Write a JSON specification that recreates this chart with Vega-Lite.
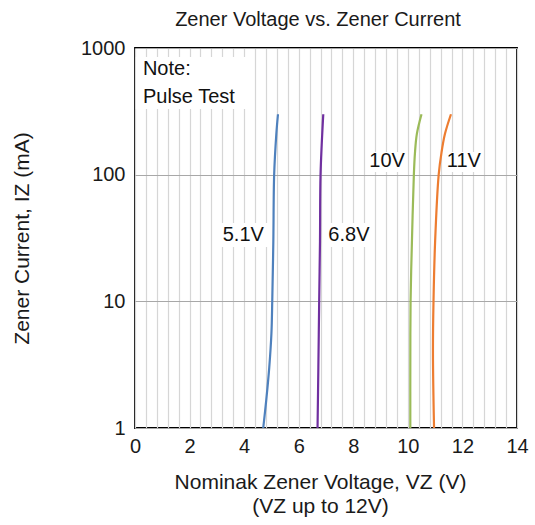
{
  "$schema": "https://vega.github.io/schema/vega-lite/v6.json",
  "width": 382,
  "height": 380,
  "autosize": {"type": "none"},
  "padding": {"left": 135, "top": 48, "right": 18, "bottom": 97},
  "background": "white",
  "title": {
    "text": "Zener Voltage vs. Zener Current",
    "font": "Liberation Sans",
    "fontSize": 20,
    "fontWeight": "normal",
    "color": "#1a1a1a",
    "frame": "group",
    "anchor": "middle",
    "dx": -8,
    "offset": 8
  },
  "config": {
    "view": {"stroke": "#000000", "strokeWidth": 1.8},
    "font": "Liberation Sans",
    "axis": {
      "labelFont": "Liberation Sans",
      "titleFont": "Liberation Sans",
      "labelColor": "#1a1a1a",
      "titleColor": "#1a1a1a",
      "titleFontWeight": "normal",
      "domain": false,
      "ticks": false,
      "labelOverlap": false
    }
  },
  "datasets": {
    "curves": [
      {"series": "5.1V", "v": 4.70, "i": 1},
      {"series": "5.1V", "v": 4.81, "i": 1.66},
      {"series": "5.1V", "v": 4.92, "i": 3},
      {"series": "5.1V", "v": 5.00, "i": 5.6},
      {"series": "5.1V", "v": 5.03, "i": 10},
      {"series": "5.1V", "v": 5.07, "i": 30},
      {"series": "5.1V", "v": 5.10, "i": 100},
      {"series": "5.1V", "v": 5.18, "i": 210},
      {"series": "5.1V", "v": 5.24, "i": 300},
      {"series": "6.8V", "v": 6.69, "i": 1},
      {"series": "6.8V", "v": 6.72, "i": 3},
      {"series": "6.8V", "v": 6.75, "i": 10},
      {"series": "6.8V", "v": 6.78, "i": 30},
      {"series": "6.8V", "v": 6.80, "i": 100},
      {"series": "6.8V", "v": 6.90, "i": 300},
      {"series": "10V", "v": 10.09, "i": 1},
      {"series": "10V", "v": 10.09, "i": 3},
      {"series": "10V", "v": 10.10, "i": 10},
      {"series": "10V", "v": 10.15, "i": 30},
      {"series": "10V", "v": 10.22, "i": 100},
      {"series": "10V", "v": 10.26, "i": 148},
      {"series": "10V", "v": 10.33, "i": 210},
      {"series": "10V", "v": 10.50, "i": 300},
      {"series": "11V", "v": 10.96, "i": 1},
      {"series": "11V", "v": 10.94, "i": 1.66},
      {"series": "11V", "v": 10.92, "i": 4.1},
      {"series": "11V", "v": 10.94, "i": 10},
      {"series": "11V", "v": 11.00, "i": 30},
      {"series": "11V", "v": 11.13, "i": 100},
      {"series": "11V", "v": 11.23, "i": 148},
      {"series": "11V", "v": 11.36, "i": 210},
      {"series": "11V", "v": 11.58, "i": 300}
    ],
    "boxes": [
      {"v": 0.03, "v2": 4.1, "i": 330, "i2": 850},
      {"v": 3.11, "v2": 4.87, "i": 26.8, "i2": 41.5},
      {"v": 6.92, "v2": 8.72, "i": 26.8, "i2": 41.5},
      {"v": 8.5, "v2": 9.96, "i": 105, "i2": 151},
      {"v": 11.28, "v2": 12.75, "i": 105, "i2": 151}
    ],
    "labels": [
      {"text": "5.1V", "v": 3.97, "i": 33.4},
      {"text": "6.8V", "v": 7.84, "i": 33.4},
      {"text": "10V", "v": 9.24, "i": 127.5},
      {"text": "11V", "v": 12.05, "i": 127.5}
    ],
    "notes": [
      {"text": "Note:", "v": 0.29, "i": 683},
      {"text": "Pulse Test", "v": 0.29, "i": 410}
    ]
  },
  "encoding": {
    "x": {
      "field": "v", "type": "quantitative",
      "scale": {"domain": [0, 14], "nice": false, "zero": false},
      "axis": {
        "values": [0, 0.4, 0.8, 1.2, 1.6, 2, 2.4, 2.8, 3.2, 3.6, 4, 4.4, 4.8, 5.2, 5.6, 6, 6.4, 6.8, 7.2, 7.6, 8, 8.4, 8.8, 9.2, 9.6, 10, 10.4, 10.8, 11.2, 11.6, 12, 12.4, 12.8, 13.2, 13.6, 14],
        "labelExpr": "abs(datum.value - round(datum.value / 2) * 2) < 0.001 ? format(datum.value, '.0f') : ''",
        "labelOverlap": false,
        "labelFlush": false,
        "labelFontSize": 20,
        "labelPadding": 8,
        "grid": true,
        "gridColor": "#d6d6d6",
        "gridWidth": 1.2,
        "title": ["Nominak Zener Voltage, VZ (V)", "(VZ up to 12V)"],
        "titleFontSize": 21,
        "titlePadding": 15,
        "titleLineHeight": 24,
        "titleX": 185
      }
    },
    "y": {
      "field": "i", "type": "quantitative",
      "scale": {"type": "log", "domain": [1, 1000], "nice": false},
      "axis": {
        "values": [1, 10, 100, 1000],
        "format": "d",
        "labelFontSize": 20,
        "labelPadding": 10,
        "grid": true,
        "gridColor": "#a8a8a8",
        "gridWidth": 1.2,
        "title": "Zener Current, IZ (mA)",
        "titleFontSize": 21,
        "titlePadding": 48
      }
    }
  },
  "layer": [
    {
      "data": {"name": "boxes"},
      "mark": {"type": "rect", "color": "white"},
      "encoding": {
        "x2": {"field": "v2"},
        "y2": {"field": "i2"}
      }
    },
    {
      "data": {"name": "curves"},
      "mark": {"type": "line", "strokeWidth": 2.2, "interpolate": "catmull-rom"},
      "encoding": {
        "order": {"field": "i", "type": "quantitative"},
        "color": {
          "field": "series", "type": "nominal",
          "scale": {"domain": ["5.1V", "6.8V", "10V", "11V"], "range": ["#4f81bd", "#7030a0", "#9bbb59", "#ed7d31"]},
          "legend": null
        }
      }
    },
    {
      "data": {"name": "labels"},
      "mark": {"type": "text", "fontSize": 20, "align": "center", "baseline": "middle", "color": "#111111"},
      "encoding": {
        "text": {"field": "text"}
      }
    },
    {
      "data": {"name": "notes"},
      "mark": {"type": "text", "fontSize": 20, "align": "left", "baseline": "middle", "color": "#111111"},
      "encoding": {
        "text": {"field": "text"}
      }
    }
  ]
}
